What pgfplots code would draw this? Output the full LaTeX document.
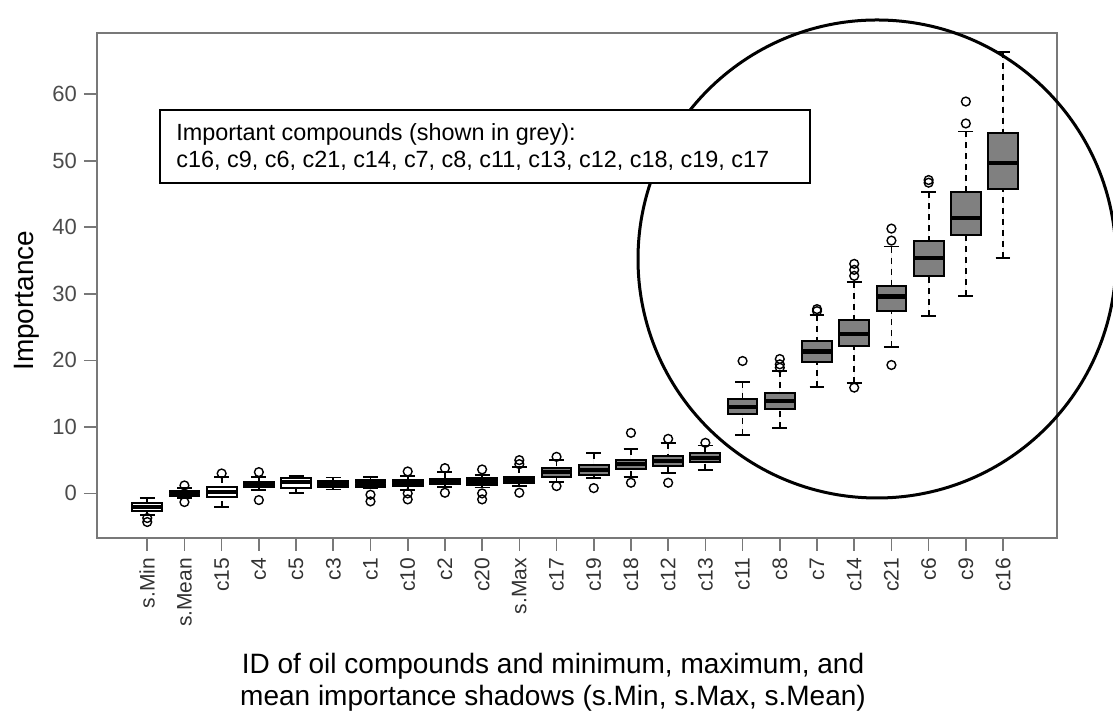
\documentclass[border=0pt]{standalone}
\usepackage{pgfplots}
\pgfplotsset{compat=1.18}
\usepgfplotslibrary{statistics}
\usepackage{fontspec}
\setmainfont{Liberation Sans}
\definecolor{boxgray}{RGB}{128,128,128}
\definecolor{axisgray}{RGB}{120,120,120}
\definecolor{tickgray}{RGB}{75,75,75}
\definecolor{xtickc}{RGB}{50,50,50}
\pgfplotsset{
  boxplot/draw/lower whisker/.code={%
    \draw[/pgfplots/boxplot/every whisker/.try,dash pattern=on 3pt off 2.5pt]
      (boxplot box cs:\pgfplotsboxplotvalue{lower whisker},0.5)
      -- (boxplot box cs:\pgfplotsboxplotvalue{lower quartile},0.5);
    \draw[/pgfplots/boxplot/every whisker/.try,solid]
      (boxplot whisker cs:\pgfplotsboxplotvalue{lower whisker},0)
      -- (boxplot whisker cs:\pgfplotsboxplotvalue{lower whisker},1);
  },
  boxplot/draw/upper whisker/.code={%
    \draw[/pgfplots/boxplot/every whisker/.try,dash pattern=on 3pt off 2.5pt]
      (boxplot box cs:\pgfplotsboxplotvalue{upper whisker},0.5)
      -- (boxplot box cs:\pgfplotsboxplotvalue{upper quartile},0.5);
    \draw[/pgfplots/boxplot/every whisker/.try,solid]
      (boxplot whisker cs:\pgfplotsboxplotvalue{upper whisker},0)
      -- (boxplot whisker cs:\pgfplotsboxplotvalue{upper whisker},1);
  },
  bpbase/.style={draw=black, line width=1pt, mark=o, mark size=2.2pt,
    mark options={solid, line width=0.7pt, draw=black},
    boxplot/every median/.style={line width=2.2pt, draw=black},
    boxplot/every whisker/.style={line width=0.9pt, draw=black},
    boxplot/every box/.style={line width=1pt, draw=black}},
  bpw/.style={bpbase, fill=white},
  bpg/.style={bpbase, fill=boxgray},
}
\begin{document}
\begin{tikzpicture}
\useasboundingbox (0,0) rectangle (556.5pt,358pt);
\begin{axis}[
  at={(48.5pt,89pt)}, anchor=south west,
  scale only axis, width=480pt, height=252.5pt,
  xmin=-1.35, xmax=24.45, ymin=-6.7, ymax=69.2,
  boxplot/draw direction=y,
  xtick={0,...,23},
  xticklabels={s.Min,s.Mean,c15,c4,c5,c3,c1,c10,c2,c20,s.Max,c17,c19,c18,c12,c13,c11,c8,c7,c14,c21,c6,c9,c16},
  ytick={0,10,...,60},
  tick align=outside, major tick length=6.5pt,
  xtick pos=bottom, ytick pos=left,
  tick style={axisgray, line width=0.8pt},
  axis line style={axisgray, line width=1pt},
  /pgf/number format/assume math mode=true,
  xticklabel style={rotate=90, anchor=east, font=\fontsize{10.5}{12}\selectfont, text=xtickc},
  yticklabel style={font=\fontsize{11}{13}\selectfont, text=tickgray},
  ylabel={Importance},
  ylabel style={font=\fontsize{14}{16}\selectfont, at={(axis description cs:-0.073,0.47)}, anchor=center},
  xlabel={ID of oil compounds and minimum, maximum, and\\mean importance shadows (s.Min, s.Max, s.Mean)},
  xlabel style={font=\fontsize{14}{16}\selectfont, align=center, at={(axis description cs:0.475,-0.285)}, anchor=center},
]
\addplot[bpw, boxplot prepared={draw position=0, lower whisker=-3.2, lower quartile=-2.6, median=-2.0, upper quartile=-1.4, upper whisker=-0.7, box extend=0.8, whisker extend=0.4}]
  table[row sep=\\, y index=0] {data\\ -3.7\\ -4.3\\};
\addplot[bpw, boxplot prepared={draw position=1, lower whisker=-0.7, lower quartile=-0.35, median=0.0, upper quartile=0.35, upper whisker=0.8, box extend=0.8, whisker extend=0.4}]
  table[row sep=\\, y index=0] {data\\ 1.2\\ -1.3\\};
\addplot[bpw, boxplot prepared={draw position=2, lower whisker=-2.0, lower quartile=-0.5, median=0.2, upper quartile=1.0, upper whisker=2.5, box extend=0.8, whisker extend=0.4}]
  table[row sep=\\, y index=0] {data\\ 3.0\\};
\addplot[bpw, boxplot prepared={draw position=3, lower whisker=0.5, lower quartile=1.0, median=1.3, upper quartile=1.7, upper whisker=2.5, box extend=0.8, whisker extend=0.4}]
  table[row sep=\\, y index=0] {data\\ 3.2\\ -1.0\\};
\addplot[bpw, boxplot prepared={draw position=4, lower whisker=0.1, lower quartile=0.8, median=1.7, upper quartile=2.3, upper whisker=2.6, box extend=0.8, whisker extend=0.4}]
  coordinates {};
\addplot[bpw, boxplot prepared={draw position=5, lower whisker=0.6, lower quartile=1.0, median=1.4, upper quartile=1.9, upper whisker=2.4, box extend=0.8, whisker extend=0.4}]
  coordinates {};
\addplot[bpw, boxplot prepared={draw position=6, lower whisker=0.8, lower quartile=1.0, median=1.5, upper quartile=2.0, upper whisker=2.5, box extend=0.8, whisker extend=0.4}]
  table[row sep=\\, y index=0] {data\\ -0.2\\ -1.2\\};
\addplot[bpw, boxplot prepared={draw position=7, lower whisker=0.5, lower quartile=1.1, median=1.6, upper quartile=2.0, upper whisker=2.6, box extend=0.8, whisker extend=0.4}]
  table[row sep=\\, y index=0] {data\\ 3.3\\ 0.0\\ -0.9\\};
\addplot[bpw, boxplot prepared={draw position=8, lower whisker=1.0, lower quartile=1.4, median=1.8, upper quartile=2.2, upper whisker=3.2, box extend=0.8, whisker extend=0.4}]
  table[row sep=\\, y index=0] {data\\ 3.8\\ 0.1\\};
\addplot[bpw, boxplot prepared={draw position=9, lower whisker=0.9, lower quartile=1.3, median=1.8, upper quartile=2.3, upper whisker=2.8, box extend=0.8, whisker extend=0.4}]
  table[row sep=\\, y index=0] {data\\ 3.6\\ 0.0\\ -0.9\\};
\addplot[bpw, boxplot prepared={draw position=10, lower whisker=1.1, lower quartile=1.6, median=2.1, upper quartile=2.5, upper whisker=4.0, box extend=0.8, whisker extend=0.4}]
  table[row sep=\\, y index=0] {data\\ 4.4\\ 5.0\\ 0.1\\};
\addplot[bpg, boxplot prepared={draw position=11, lower whisker=1.7, lower quartile=2.5, median=3.2, upper quartile=3.8, upper whisker=5.0, box extend=0.8, whisker extend=0.4}]
  table[row sep=\\, y index=0] {data\\ 5.5\\ 1.1\\};
\addplot[bpg, boxplot prepared={draw position=12, lower whisker=2.3, lower quartile=2.8, median=3.5, upper quartile=4.3, upper whisker=6.1, box extend=0.8, whisker extend=0.4}]
  table[row sep=\\, y index=0] {data\\ 0.8\\};
\addplot[bpg, boxplot prepared={draw position=13, lower whisker=2.5, lower quartile=3.7, median=4.4, upper quartile=5.0, upper whisker=6.7, box extend=0.8, whisker extend=0.4}]
  table[row sep=\\, y index=0] {data\\ 9.1\\ 1.6\\};
\addplot[bpg, boxplot prepared={draw position=14, lower whisker=3.1, lower quartile=4.1, median=4.9, upper quartile=5.6, upper whisker=7.6, box extend=0.8, whisker extend=0.4}]
  table[row sep=\\, y index=0] {data\\ 8.2\\ 1.6\\};
\addplot[bpg, boxplot prepared={draw position=15, lower whisker=3.5, lower quartile=4.7, median=5.3, upper quartile=6.0, upper whisker=7.2, box extend=0.8, whisker extend=0.4}]
  table[row sep=\\, y index=0] {data\\ 7.6\\};
\addplot[bpg, boxplot prepared={draw position=16, lower whisker=8.8, lower quartile=11.9, median=13.0, upper quartile=14.2, upper whisker=16.8, box extend=0.8, whisker extend=0.4}]
  table[row sep=\\, y index=0] {data\\ 19.9\\};
\addplot[bpg, boxplot prepared={draw position=17, lower whisker=9.8, lower quartile=12.7, median=13.9, upper quartile=15.1, upper whisker=18.4, box extend=0.8, whisker extend=0.4}]
  table[row sep=\\, y index=0] {data\\ 18.9\\ 19.4\\ 20.2\\};
\addplot[bpg, boxplot prepared={draw position=18, lower whisker=16.0, lower quartile=19.8, median=21.3, upper quartile=22.9, upper whisker=26.8, box extend=0.8, whisker extend=0.4}]
  table[row sep=\\, y index=0] {data\\ 27.4\\ 27.7\\};
\addplot[bpg, boxplot prepared={draw position=19, lower whisker=16.6, lower quartile=22.2, median=24.0, upper quartile=26.1, upper whisker=31.8, box extend=0.8, whisker extend=0.4}]
  table[row sep=\\, y index=0] {data\\ 32.7\\ 33.6\\ 34.5\\ 15.9\\};
\addplot[bpg, boxplot prepared={draw position=20, lower whisker=22.0, lower quartile=27.4, median=29.6, upper quartile=31.2, upper whisker=37.1, box extend=0.8, whisker extend=0.4}]
  table[row sep=\\, y index=0] {data\\ 38.0\\ 39.8\\ 19.3\\};
\addplot[bpg, boxplot prepared={draw position=21, lower whisker=26.7, lower quartile=32.7, median=35.4, upper quartile=38.0, upper whisker=45.3, box extend=0.8, whisker extend=0.4}]
  table[row sep=\\, y index=0] {data\\ 46.7\\ 47.1\\};
\addplot[bpg, boxplot prepared={draw position=22, lower whisker=29.7, lower quartile=38.9, median=41.4, upper quartile=45.3, upper whisker=54.4, box extend=0.8, whisker extend=0.4}]
  table[row sep=\\, y index=0] {data\\ 55.6\\ 58.9\\};
\addplot[bpg, boxplot prepared={draw position=23, lower whisker=35.4, lower quartile=45.8, median=49.7, upper quartile=54.2, upper whisker=66.4, box extend=0.8, whisker extend=0.4}]
  coordinates {};
\end{axis}
\draw[black, line width=1.5pt] (438.5pt,228.5pt) circle (119.5pt);
\draw[black, line width=1pt, fill=white] (80pt,266.5pt) rectangle (405pt,303pt);
\node[anchor=west, align=left, inner sep=0pt, font=\fontsize{11.7}{13.5}\selectfont] at (88pt,284.5pt)
  {Important compounds (shown in grey):\\c16, c9, c6, c21, c14, c7, c8, c11, c13, c12, c18, c19, c17};
\end{tikzpicture}
\end{document}
